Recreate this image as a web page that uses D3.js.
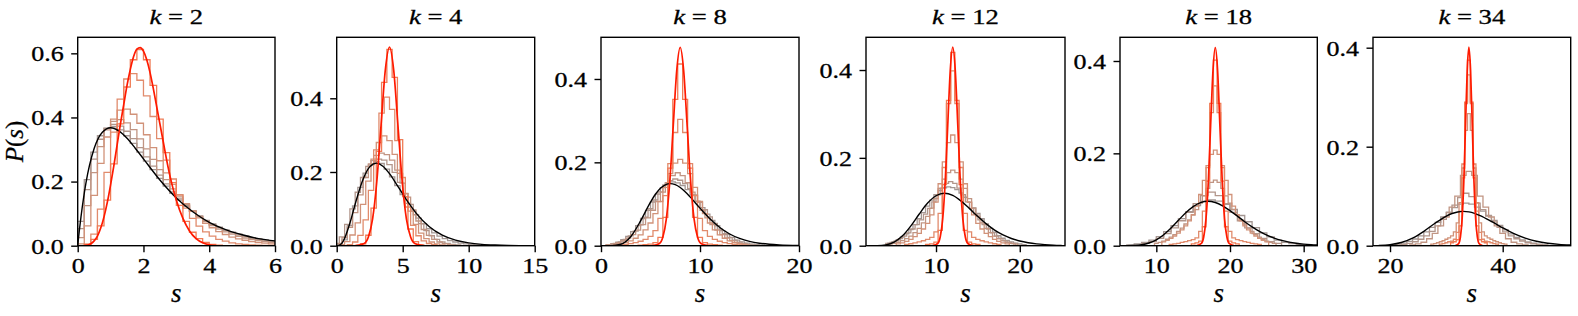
<!DOCTYPE html>
<html>
<head>
<meta charset="utf-8">
<script src="https://cdn.jsdelivr.net/npm/d3@7"></script>
<style>
body { margin: 0; background: #fff; }
svg text { font-family: "Liberation Serif", "Times New Roman", serif; fill: #000; }
</style>
</head>
<body>
<div id="chart"></div>
<script>
// values, one group per panel

const kValues = [2, 4, 8, 12, 18, 34];

// k = 2
const k2BlackS = [0, 0.05, 0.1, 0.25, 0.5, 0.75, 1, 1.25, 1.5, 1.75, 2, 2.5, 3, 3.5, 4, 4.5, 5, 5.5, 6];
const k2BlackP = [0, 0.048, 0.090, 0.195, 0.303, 0.354, 0.368, 0.358, 0.335, 0.304, 0.271, 0.205, 0.149, 0.106, 0.073, 0.050, 0.034, 0.022, 0.015];
const k2RedS = [0.2, 0.3, 0.4, 0.5, 0.6, 0.7, 0.8, 0.9, 1.0, 1.1, 1.2, 1.3, 1.4, 1.5, 1.6, 1.7, 1.8, 1.9, 2.0, 2.1, 2.2, 2.3, 2.4, 2.5, 2.6, 2.7, 2.8, 2.9, 3.0, 3.2, 3.4, 3.6, 3.8, 4.0, 4.2];
const k2RedP = [0, 0.002, 0.006, 0.015, 0.03, 0.055, 0.09, 0.135, 0.19, 0.25, 0.315, 0.38, 0.44, 0.5, 0.55, 0.59, 0.613, 0.618, 0.607, 0.58, 0.54, 0.49, 0.435, 0.38, 0.325, 0.27, 0.22, 0.178, 0.142, 0.085, 0.046, 0.022, 0.009, 0.003, 0];
const k2HistStart = [0.2, 0.2, 0, 0, 0, 0];
const k2HistWidth = [0.2, 0.2, 0.2, 0.2, 0.2, 0.2];
const k2Hist = [
  [0.004, 0.02, 0.062, 0.142, 0.255, 0.38, 0.495, 0.58, 0.612, 0.58, 0.5, 0.395, 0.29, 0.197, 0.126, 0.076, 0.042, 0.022, 0.01, 0.004, 0.0015],
  [0.0045, 0.036, 0.114, 0.229, 0.354, 0.457, 0.520, 0.537, 0.516, 0.467, 0.403, 0.334, 0.267, 0.208, 0.158, 0.117, 0.085, 0.061, 0.043, 0.030, 0.020, 0.014, 0.009, 0.006, 0.004, 0.0026, 0.0017, 0.0011, 0.0007],
  [0.006, 0.062, 0.157, 0.257, 0.339, 0.395, 0.423, 0.426, 0.410, 0.382, 0.346, 0.306, 0.265, 0.227, 0.191, 0.159, 0.131, 0.107, 0.087, 0.070, 0.056, 0.044, 0.035, 0.027, 0.021, 0.017, 0.013, 0.010, 0.008, 0.006],
  [0.025, 0.125, 0.228, 0.309, 0.361, 0.388, 0.393, 0.383, 0.362, 0.333, 0.302, 0.269, 0.237, 0.206, 0.177, 0.152, 0.129, 0.109, 0.091, 0.076, 0.063, 0.052, 0.043, 0.036, 0.029, 0.024, 0.019, 0.016, 0.013, 0.010],
  [0.053, 0.175, 0.270, 0.332, 0.366, 0.378, 0.373, 0.357, 0.334, 0.306, 0.277, 0.248, 0.220, 0.193, 0.168, 0.146, 0.126, 0.108, 0.092, 0.078, 0.066, 0.056, 0.047, 0.040, 0.033, 0.028, 0.023, 0.019, 0.016, 0.013],
  [0.076, 0.206, 0.292, 0.343, 0.367, 0.371, 0.361, 0.343, 0.319, 0.292, 0.264, 0.237, 0.210, 0.186, 0.163, 0.142, 0.123, 0.107, 0.092, 0.079, 0.068, 0.058, 0.049, 0.042, 0.036, 0.030, 0.025, 0.022, 0.018, 0.015]
];

// k = 4
const k4BlackS = [0, 0.25, 0.5, 1, 1.5, 2, 2.5, 3, 3.5, 4, 4.5, 5, 5.5, 6, 7, 8, 9, 10, 11, 12, 13, 15];
const k4BlackP = [0, 0.002, 0.0126, 0.0613, 0.1255, 0.1804, 0.2138, 0.2240, 0.2158, 0.1954, 0.1687, 0.1404, 0.1133, 0.0892, 0.0521, 0.0286, 0.0150, 0.0076, 0.0037, 0.0018, 0.0008, 0.0001];
const k4RedS = [1.44, 2.08, 2.4, 2.72, 3.04, 3.36, 3.68, 4, 4.32, 4.64, 4.96, 5.28, 5.6, 5.92, 6.56];
const k4RedP = [0.0002, 0.006, 0.0237, 0.0729, 0.175, 0.3269, 0.4757, 0.539, 0.4757, 0.3269, 0.175, 0.0729, 0.0237, 0.006, 0.0002];
const k4HistStart = [1.4, 0.8, 0.2, 0, 0.2, 0];
const k4HistWidth = [0.4, 0.4, 0.4, 0.4, 0.4, 0.4];
const k4Hist = [
  [0.0007, 0.0053, 0.0283, 0.102, 0.256, 0.443, 0.533, 0.457, 0.288, 0.133, 0.0453, 0.0112, 0.0021, 0.0003],
  [0.003, 0.01, 0.028, 0.07, 0.15, 0.26, 0.36, 0.403, 0.37, 0.285, 0.185, 0.105, 0.055, 0.027, 0.013, 0.006, 0.003],
  [0.003, 0.011, 0.029, 0.062, 0.112, 0.175, 0.235, 0.28, 0.298, 0.285, 0.248, 0.196, 0.141, 0.094, 0.058, 0.034, 0.019, 0.01, 0.005, 0.0025],
  [0.006, 0.022, 0.05, 0.09, 0.138, 0.185, 0.222, 0.245, 0.251, 0.247, 0.232, 0.205, 0.17, 0.132, 0.097, 0.067, 0.044, 0.028, 0.017, 0.01, 0.0055, 0.003],
  [0.024, 0.058, 0.1, 0.145, 0.185, 0.215, 0.231, 0.235, 0.232, 0.22, 0.199, 0.172, 0.142, 0.112, 0.084, 0.06, 0.041, 0.027, 0.017, 0.01, 0.006, 0.0035, 0.002],
  [0.0008, 0.016, 0.055, 0.108, 0.158, 0.197, 0.219, 0.228, 0.223, 0.208, 0.187, 0.163, 0.139, 0.115, 0.094, 0.075, 0.059, 0.046, 0.035, 0.026, 0.019, 0.014, 0.010, 0.007, 0.005, 0.0035, 0.0025]
];

// k = 8
const k8BlackS = [0, 1, 2, 3, 4, 5, 5.5, 6, 6.5, 7, 7.5, 8, 8.5, 9, 10, 11, 12, 13, 14, 15, 16, 17, 18, 20];
const k8BlackP = [0, 0.0001, 0.0034, 0.0216, 0.0595, 0.1044, 0.1234, 0.1377, 0.1462, 0.1490, 0.1465, 0.1396, 0.1294, 0.1171, 0.0901, 0.0646, 0.0437, 0.0281, 0.0174, 0.0104, 0.0060, 0.0034, 0.0018, 0.0005];
const k8RedS = [5.2, 5.9, 6.25, 6.6, 6.95, 7.3, 7.65, 8, 8.35, 8.7, 9.05, 9.4, 9.75, 10.1, 10.8];
const k8RedP = [0.0001, 0.0053, 0.0209, 0.0644, 0.1546, 0.2887, 0.4201, 0.476, 0.4201, 0.2887, 0.1546, 0.0644, 0.0209, 0.0053, 0.0001];
const k8HistStart = [3.75, 1.75, 1.25, 0.5, 1.25, 1.0];
const k8HistWidth = [0.5, 0.5, 0.5, 0.5, 0.5, 0.5];
const k8Hist = [
  [0.0013, 0.0023, 0.0038, 0.0074, 0.020, 0.068, 0.186, 0.351, 0.436, 0.351, 0.186, 0.068, 0.020, 0.0074, 0.0038, 0.0023, 0.0013],
  [0.0019, 0.0031, 0.0049, 0.0074, 0.0107, 0.0154, 0.0226, 0.0364, 0.0656, 0.120, 0.197, 0.2716, 0.303, 0.2716, 0.197, 0.120, 0.0656, 0.0364, 0.0226, 0.0154, 0.0107, 0.0074, 0.0049, 0.0031, 0.0019],
  [0.003, 0.0049, 0.0077, 0.0117, 0.0179, 0.0262, 0.0379, 0.0545, 0.077, 0.106, 0.140, 0.173, 0.198, 0.207, 0.198, 0.173, 0.140, 0.106, 0.077, 0.0545, 0.0379, 0.0262, 0.0179, 0.0117, 0.0077, 0.0049, 0.003],
  [0.0027, 0.0046, 0.0076, 0.012, 0.0182, 0.0267, 0.0375, 0.0506, 0.0667, 0.085, 0.1056, 0.1285, 0.151, 0.168, 0.175, 0.168, 0.151, 0.1285, 0.1056, 0.085, 0.0667, 0.0506, 0.0375, 0.0267, 0.0182, 0.012, 0.0076, 0.0046, 0.0027],
  [0.0053, 0.0091, 0.015, 0.0237, 0.0352, 0.0502, 0.0683, 0.0886, 0.1096, 0.129, 0.1456, 0.156, 0.16, 0.157, 0.149, 0.137, 0.1216, 0.104, 0.0862, 0.069, 0.0534, 0.0398, 0.0288, 0.0202, 0.0136, 0.0088, 0.0056, 0.0034, 0.002],
  [0.005, 0.0087, 0.0144, 0.0226, 0.0337, 0.048, 0.0653, 0.0848, 0.1048, 0.1236, 0.1392, 0.1495, 0.153, 0.1508, 0.1444, 0.1345, 0.1216, 0.1068, 0.0912, 0.0756, 0.061, 0.0479, 0.0364, 0.0269, 0.0193, 0.0135, 0.0091, 0.006, 0.0039, 0.0024, 0.0015]
];

// k = 12
const k12BlackS = [2, 3, 4, 5, 6, 7, 8, 9, 10, 11, 12, 13, 14, 15, 16, 17, 18, 19, 20, 21, 22, 23, 24, 25];
const k12BlackP = [0, 0.0002, 0.0019, 0.0082, 0.0225, 0.0452, 0.0722, 0.0970, 0.1137, 0.1194, 0.1144, 0.1015, 0.0844, 0.0663, 0.0496, 0.0355, 0.0245, 0.0164, 0.0106, 0.0067, 0.0041, 0.0025, 0.0014, 0.0008];
const k12RedS = [9.6, 10.2, 10.5, 10.8, 11.1, 11.4, 11.7, 12, 12.3, 12.6, 12.9, 13.2, 13.5, 13.8, 14.4];
const k12RedP = [0.0001, 0.005, 0.0198, 0.0612, 0.1468, 0.2741, 0.3989, 0.452, 0.3989, 0.2741, 0.1468, 0.0612, 0.0198, 0.005, 0.0001];
const k12HistStart = [8.75, 6.25, 5.25, 4.25, 4.0, 4.25];
const k12HistWidth = [0.5, 0.5, 0.5, 0.5, 0.5, 0.5];
const k12Hist = [
  [0.003, 0.004, 0.008, 0.035, 0.139, 0.331, 0.44, 0.331, 0.139, 0.035, 0.008, 0.004, 0.003],
  [0.003, 0.0044, 0.0063, 0.0086, 0.0113, 0.0144, 0.019, 0.0314, 0.0737, 0.178, 0.3235, 0.398, 0.3235, 0.178, 0.0737, 0.0314, 0.019, 0.0144, 0.0113, 0.0086, 0.0063, 0.0044, 0.003],
  [0.004, 0.0064, 0.0098, 0.0144, 0.0206, 0.028, 0.038, 0.051, 0.070, 0.099, 0.141, 0.191, 0.2346, 0.252, 0.2346, 0.191, 0.141, 0.099, 0.070, 0.051, 0.038, 0.028, 0.0206, 0.0144, 0.0098, 0.0064, 0.004],
  [0.0034, 0.0052, 0.0079, 0.0114, 0.016, 0.0219, 0.0299, 0.0396, 0.0519, 0.0669, 0.0856, 0.1072, 0.1304, 0.1514, 0.1666, 0.172, 0.1666, 0.1514, 0.1304, 0.1072, 0.0856, 0.0669, 0.0519, 0.0396, 0.0299, 0.0219, 0.016, 0.0114, 0.0079, 0.0052, 0.0034],
  [0.005, 0.0077, 0.011, 0.016, 0.022, 0.029, 0.038, 0.048, 0.059, 0.072, 0.085, 0.100, 0.116, 0.131, 0.142, 0.146, 0.142, 0.131, 0.116, 0.100, 0.085, 0.072, 0.059, 0.048, 0.038, 0.029, 0.022, 0.016, 0.011, 0.0077, 0.005],
  [0.0059, 0.009, 0.0135, 0.0194, 0.0272, 0.0369, 0.0482, 0.0614, 0.0754, 0.0899, 0.1039, 0.116, 0.1257, 0.1319, 0.134, 0.1324, 0.1276, 0.120, 0.1103, 0.0988, 0.0863, 0.0737, 0.0614, 0.0498, 0.0395, 0.0306, 0.023, 0.017, 0.0122, 0.0086, 0.0059, 0.0039, 0.0025]
];

// k = 18
const k18BlackS = [6, 7, 8, 9, 10, 11, 12, 13, 14, 15, 16, 17, 18, 19, 20, 21, 22, 23, 24, 25, 26, 27, 28, 29, 30, 31, 32];
const k18BlackP = [0.00015, 0.0006, 0.0021, 0.0058, 0.0128, 0.0238, 0.0383, 0.0550, 0.0713, 0.0847, 0.0934, 0.0963, 0.0936, 0.0863, 0.0760, 0.0641, 0.0519, 0.0407, 0.0309, 0.0227, 0.0163, 0.0114, 0.0078, 0.0052, 0.0034, 0.0022, 0.0014];
const k18RedS = [15.48, 16.11, 16.43, 16.74, 17.06, 17.37, 17.69, 18, 18.32, 18.63, 18.95, 19.26, 19.58, 19.89, 20.52];
const k18RedP = [0.0001, 0.0048, 0.0188, 0.058, 0.139, 0.260, 0.379, 0.429, 0.379, 0.260, 0.139, 0.058, 0.0188, 0.0048, 0.0001];
const k18HistStart = [14.75, 11.75, 10.75, 9.75, 8, 6];
const k18HistWidth = [0.5, 0.5, 0.5, 0.5, 1, 1];
const k18Hist = [
  [0.004, 0.006, 0.010, 0.041, 0.14, 0.308, 0.402, 0.308, 0.14, 0.041, 0.010, 0.006, 0.004],
  [0.003, 0.004, 0.005, 0.007, 0.009, 0.011, 0.013, 0.017, 0.031, 0.075, 0.169, 0.288, 0.346, 0.288, 0.169, 0.075, 0.031, 0.017, 0.013, 0.011, 0.009, 0.007, 0.005, 0.004, 0.003],
  [0.0084, 0.0117, 0.0158, 0.021, 0.0271, 0.0342, 0.0431, 0.0537, 0.0672, 0.0858, 0.1109, 0.1415, 0.1732, 0.1977, 0.207, 0.1977, 0.1732, 0.1415, 0.1109, 0.0858, 0.0672, 0.0537, 0.0431, 0.0342, 0.0271, 0.021, 0.0158, 0.0117, 0.0084],
  [0.005, 0.007, 0.010, 0.014, 0.0185, 0.024, 0.031, 0.038, 0.047, 0.056, 0.066, 0.078, 0.092, 0.108, 0.124, 0.137, 0.142, 0.137, 0.124, 0.108, 0.092, 0.078, 0.066, 0.056, 0.047, 0.038, 0.031, 0.024, 0.0185, 0.014, 0.010, 0.007, 0.005],
  [0.005, 0.009, 0.016, 0.026, 0.0385, 0.054, 0.072, 0.091, 0.1085, 0.116, 0.1085, 0.091, 0.072, 0.054, 0.0385, 0.026, 0.016, 0.009, 0.005],
  [0.0019, 0.0037, 0.0069, 0.0121, 0.0198, 0.0303, 0.0436, 0.0585, 0.0737, 0.0868, 0.0958, 0.099, 0.0965, 0.0893, 0.0784, 0.0654, 0.0519, 0.0391, 0.0279, 0.0189, 0.0122, 0.0075, 0.0043, 0.0024, 0.0013]
];

// k = 34
const k34BlackS = [18, 20, 22, 24, 26, 28, 30, 31, 32, 33, 34, 35, 36, 38, 40, 42, 44, 46, 48, 50, 52];
const k34BlackP = [0.0005, 0.0021, 0.0064, 0.0153, 0.0291, 0.0454, 0.0599, 0.0651, 0.0682, 0.0693, 0.0683, 0.0654, 0.0609, 0.0491, 0.0361, 0.0244, 0.0154, 0.0090, 0.0050, 0.0026, 0.0013];
const k34RedS = [31.6, 32.2, 32.5, 32.8, 33.1, 33.4, 33.7, 34, 34.3, 34.6, 34.9, 35.2, 35.5, 35.8, 36.4];
const k34RedP = [0.0001, 0.0045, 0.0176, 0.0543, 0.130, 0.243, 0.354, 0.401, 0.354, 0.243, 0.130, 0.0543, 0.0176, 0.0045, 0.0001];
const k34HistStart = [30.75, 28.75, 27.25, 23.5, 20, 20];
const k34HistWidth = [0.5, 0.5, 0.5, 1, 1, 1];
const k34Hist = [
  [0.006, 0.008, 0.012, 0.04, 0.137, 0.29, 0.375, 0.29, 0.137, 0.04, 0.012, 0.008, 0.006],
  [0.003, 0.004, 0.006, 0.008, 0.009, 0.013, 0.027, 0.07, 0.165, 0.287, 0.345, 0.287, 0.165, 0.07, 0.027, 0.013, 0.009, 0.008, 0.006, 0.004, 0.003],
  [0.003, 0.004, 0.006, 0.008, 0.010, 0.013, 0.016, 0.020, 0.028, 0.046, 0.087, 0.157, 0.233, 0.267, 0.233, 0.157, 0.087, 0.046, 0.028, 0.020, 0.016, 0.013, 0.010, 0.008, 0.006, 0.004, 0.003],
  [0.0015, 0.0035, 0.007, 0.014, 0.025, 0.040, 0.058, 0.078, 0.100, 0.142, 0.150, 0.142, 0.100, 0.078, 0.058, 0.040, 0.025, 0.014, 0.007, 0.0035, 0.0015],
  [0.0005, 0.0012, 0.0025, 0.0045, 0.008, 0.013, 0.020, 0.029, 0.040, 0.053, 0.067, 0.082, 0.097, 0.106, 0.099, 0.086, 0.073, 0.060, 0.048, 0.037, 0.028, 0.020, 0.014, 0.0095, 0.006, 0.0037, 0.002, 0.001],
  [0.0017, 0.0031, 0.0054, 0.0088, 0.0135, 0.020, 0.028, 0.037, 0.047, 0.058, 0.068, 0.077, 0.084, 0.086, 0.084, 0.078, 0.070, 0.061, 0.051, 0.041, 0.032, 0.024, 0.017, 0.0118, 0.0078, 0.005, 0.003, 0.0018]
];

// tick labels per panel
const xTickValues = [[0, 2, 4, 6], [0, 5, 10, 15], [0, 10, 20], [10, 20], [10, 20, 30], [20, 40]];
const yTickValues = [[0, 0.2, 0.4, 0.6], [0, 0.2, 0.4], [0, 0.2, 0.4], [0, 0.2, 0.4], [0, 0.2, 0.4], [0, 0.2, 0.4]];

// histogram colours, nearest-red first
const histColors = ["#f07c56", "#e18b6c", "#d19279", "#c19583", "#b2968b", "#a39692"];

// layout (pixels of the 1578x316 page)
let plotTop = 37.3, plotBottom = 245.7;
let panelLeft  = [77.7, 336.7, 601, 866, 1120, 1373];
let panelRight = [275, 534.7, 799, 1065, 1317.3, 1570.7];
let xDomains = [[0, 6], [0, 15], [0, 20], [1.64, 25.4], [5.07, 31.85], [16.98, 52.07]];
let yMaxes = [0.65, 0.5655, 0.5, 0.4745, 0.4513, 0.421];

// the figure's text is wider than the font: force advance widths
let stretch = 1.3;
let advance = {"0": 0.5, "1": 0.5, "2": 0.5, "3": 0.5, "4": 0.5, "5": 0.5, "6": 0.5,
               "7": 0.5, "8": 0.5, "9": 0.5, ".": 0.25, " ": 0.25, "=": 0.564, "k": 0.444};
function fitWidth(sel, str, size) {
    let em = 0;
    for (let c of str) em += advance[c] || 0.5;
    sel.attr("textLength", em * size * stretch)
        .attr("lengthAdjust", "spacingAndGlyphs");
}

let curveData = [
  {bs: k2BlackS, bp: k2BlackP, rs: k2RedS, rp: k2RedP, hs: k2HistStart, hw: k2HistWidth, h: k2Hist},
  {bs: k4BlackS, bp: k4BlackP, rs: k4RedS, rp: k4RedP, hs: k4HistStart, hw: k4HistWidth, h: k4Hist},
  {bs: k8BlackS, bp: k8BlackP, rs: k8RedS, rp: k8RedP, hs: k8HistStart, hw: k8HistWidth, h: k8Hist},
  {bs: k12BlackS, bp: k12BlackP, rs: k12RedS, rp: k12RedP, hs: k12HistStart, hw: k12HistWidth, h: k12Hist},
  {bs: k18BlackS, bp: k18BlackP, rs: k18RedS, rp: k18RedP, hs: k18HistStart, hw: k18HistWidth, h: k18Hist},
  {bs: k34BlackS, bp: k34BlackP, rs: k34RedS, rp: k34RedP, hs: k34HistStart, hw: k34HistWidth, h: k34Hist}
];

let svg = d3.select("#chart").append("svg")
    .attr("width", 1578)
    .attr("height", 316);

let formatX = d3.format("d");
let formatY = d3.format(".1f");
let tickSize = 21;

kValues.forEach((k, i) => {
    let d = curveData[i];

    let x = d3.scaleLinear().domain(xDomains[i]).range([panelLeft[i], panelRight[i]]);
    let y = d3.scaleLinear().domain([0, yMaxes[i]]).range([plotBottom, plotTop]);

    let g = svg.append("g").attr("class", "panel");

    g.append("clipPath").attr("id", "clip" + i)
        .append("rect")
        .attr("x", panelLeft[i]).attr("y", plotTop)
        .attr("width", panelRight[i] - panelLeft[i])
        .attr("height", plotBottom - plotTop);

    let plot = g.append("g").attr("clip-path", "url(#clip" + i + ")");

    // step histograms, drawn from the grey one up to the orange one
    let step = d3.line()
        .x(p => x(p[0]))
        .y(p => y(p[1]))
        .curve(d3.curveStepAfter);

    for (let j = d.h.length - 1; j >= 0; j--) {
        let vals = d.h[j];
        let pts = [[d.hs[j], 0]];
        vals.forEach((v, n) => pts.push([d.hs[j] + n * d.hw[j], v]));
        pts.push([d.hs[j] + vals.length * d.hw[j], vals[vals.length - 1]]);
        pts.push([d.hs[j] + vals.length * d.hw[j], 0]);
        plot.append("path")
            .attr("d", step(pts))
            .attr("fill", "none")
            .attr("stroke", histColors[j])
            .attr("stroke-width", 1.3);
    }

    let smooth = d3.line()
        .x(p => x(p[0]))
        .y(p => y(p[1]))
        .curve(d3.curveMonotoneX);

    plot.append("path")
        .attr("d", smooth(d.bs.map((s, n) => [s, d.bp[n]])))
        .attr("fill", "none")
        .attr("stroke", "#000")
        .attr("stroke-width", 1.4);

    plot.append("path")
        .attr("d", smooth(d.rs.map((s, n) => [s, d.rp[n]])))
        .attr("fill", "none")
        .attr("stroke", "#ff1a00")
        .attr("stroke-width", 1.7);

    // frame
    g.append("rect")
        .attr("x", panelLeft[i]).attr("y", plotTop)
        .attr("width", panelRight[i] - panelLeft[i])
        .attr("height", plotBottom - plotTop)
        .attr("fill", "none")
        .attr("stroke", "#000")
        .attr("stroke-width", 1.4);

    // axes
    let xAxis = d3.axisBottom(x).tickValues(xTickValues[i]).tickSize(6.5).tickFormat(formatX);
    let yAxis = d3.axisLeft(y).tickValues(yTickValues[i]).tickSize(6.5).tickFormat(formatY);

    let xg = g.append("g").attr("transform", "translate(0," + plotBottom + ")").call(xAxis);
    let yg = g.append("g").attr("transform", "translate(" + panelLeft[i] + ",0)").call(yAxis);

    [xg, yg].forEach(a => {
        a.select(".domain").remove();
        a.selectAll(".tick line").attr("stroke", "#000").attr("stroke-width", 1.4);
        a.selectAll(".tick text")
            .attr("fill", "#000")
            .attr("stroke", "#000")
            .attr("stroke-width", 0.3)
            .style("font-family", "'Liberation Serif', serif")
            .style("font-size", tickSize + "px");
    });
    xg.selectAll(".tick text")
        .attr("y", 27.5).attr("dy", 0)
        .each(function(v) { fitWidth(d3.select(this), formatX(v), 20); });
    yg.selectAll(".tick text")
        .attr("x", -14).attr("dy", "0.35em")
        .each(function(v) { fitWidth(d3.select(this), formatY(v), 20); });

    // title
    let cx = (panelLeft[i] + panelRight[i]) / 2;
    let title = g.append("text")
        .attr("x", cx).attr("y", 24)
        .attr("text-anchor", "middle")
        .attr("stroke", "#000")
        .attr("stroke-width", 0.3)
        .style("font-size", "22px");
    title.append("tspan").style("font-style", "italic").text("k");
    title.append("tspan").text(" = " + k);
    fitWidth(title, "k = " + k, 20.5);

    // x label
    g.append("text")
        .attr("x", cx).attr("y", 302)
        .attr("text-anchor", "middle")
        .attr("stroke", "#000")
        .attr("stroke-width", 0.25)
        .style("font-size", "27px")
        .style("font-style", "italic")
        .text("s");
});

// y label, centred on the first panel
let yl = svg.append("text")
    .attr("transform", "translate(23," + ((plotTop + plotBottom) / 2) + ") rotate(-90)")
    .attr("text-anchor", "middle")
    .attr("stroke", "#000")
    .attr("stroke-width", 0.25)
    .style("font-size", "25px");
yl.append("tspan").style("font-style", "italic").text("P");
yl.append("tspan").text("(");
yl.append("tspan").style("font-style", "italic").text("s");
yl.append("tspan").text(")");
</script>
</body>
</html>
